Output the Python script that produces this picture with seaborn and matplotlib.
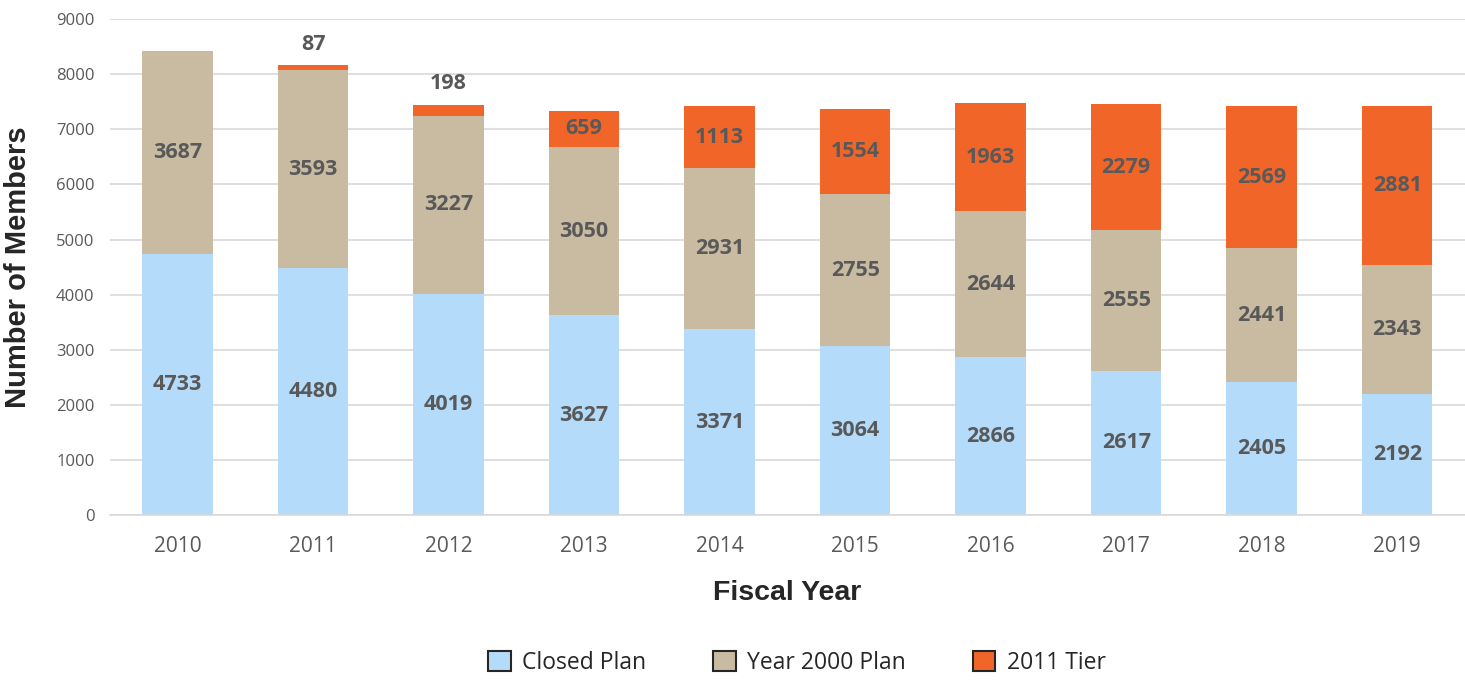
import numpy as np
import pandas as pd
import matplotlib
matplotlib.use("Agg")
import matplotlib.pyplot as plt
import seaborn as sns
from matplotlib.patches import Patch


# ============================================================
# DATA
# ============================================================

years = ["2010", "2011", "2012", "2013", "2014", "2015", "2016", "2017", "2018", "2019"]
closed_plan = [4733, 4480, 4019, 3627, 3371, 3064, 2866, 2617, 2405, 2192]
year2000_plan = [3687, 3593, 3227, 3050, 2931, 2755, 2644, 2555, 2441, 2343]
tier_2011 = [0, 87, 198, 659, 1113, 1554, 1963, 2279, 2569, 2881]

COLORS = {
    "Closed Plan": "#B4DBFA",
    "Year 2000 Plan": "#C9BBA1",
    "2011 Tier": "#F26529",
}

df = pd.DataFrame({
    "year": years,
    "closed": closed_plan,
    "y2000": year2000_plan,
    "tier": tier_2011,
})
df["lower2"] = df["closed"] + df["y2000"]
df["total"] = df["lower2"] + df["tier"]


# ============================================================
# PLOT
# ============================================================

sns.set_style("white")
plt.rcParams["font.family"] = ["Open Sans", "DejaVu Sans"]

fig = plt.figure(figsize=(14.65, 6.83), dpi=100)
ax = fig.add_axes([0.075, 0.246, 0.925, 0.726])

# stacked: draw cumulative totals from top down
bar_kw = dict(width=0.52, saturation=1, linewidth=0, ax=ax, zorder=2)
sns.barplot(data=df, x="year", y="total", color=COLORS["2011 Tier"], **bar_kw)
sns.barplot(data=df, x="year", y="lower2", color=COLORS["Year 2000 Plan"], **bar_kw)
sns.barplot(data=df, x="year", y="closed", color=COLORS["Closed Plan"], **bar_kw)

label_kw = dict(ha="center", va="center", fontsize=15.5, fontweight="bold",
                color="#595959", zorder=3)

for i, row in df.iterrows():
    ax.text(i, row["closed"] / 2, f"{row['closed']}", **label_kw)
    ax.text(i, row["closed"] + row["y2000"] / 2, f"{row['y2000']}", **label_kw)
    if row["tier"] == 0:
        continue
    if row["tier"] < 400:
        ax.text(i, row["total"] + 380, f"{row['tier']}", **label_kw)
    else:
        ax.text(i, row["lower2"] + row["tier"] / 2, f"{row['tier']}", **label_kw)

ax.set_ylim(0, 9000)
ax.set_xlim(-0.5, 9.5)
ax.set_yticks(np.arange(0, 9001, 1000))
ax.yaxis.grid(True, color="#D9D9D9", linewidth=1.2, zorder=0)
ax.set_axisbelow(True)

for side in ["top", "right", "left"]:
    ax.spines[side].set_visible(False)
ax.spines["bottom"].set_color("#D9D9D9")
ax.spines["bottom"].set_linewidth(1.2)

ax.tick_params(axis="x", labelsize=15, colors="#595959", length=0, pad=15)
ax.tick_params(axis="y", labelsize=12, colors="#595959", length=0, pad=11)

ax.set_xlabel("Fiscal Year", fontsize=20.5, fontweight="bold", color="#262626",
              labelpad=17, family=["Liberation Sans", "DejaVu Sans"])
ax.set_ylabel("Number of Members", fontsize=21, fontweight="bold", color="#262626",
              labelpad=17, family=["Liberation Sans", "DejaVu Sans"])

handles = [Patch(facecolor=c, edgecolor="#262626", linewidth=1.5, label=k)
           for k, c in COLORS.items()]
fig.legend(handles=handles, loc="lower center", bbox_to_anchor=(0.544, -0.018),
           ncol=3, frameon=False, fontsize=16.5, columnspacing=2.9,
           handlelength=1.0, handleheight=1.0, handletextpad=0.5)

plt.savefig("out.png", dpi=100)
